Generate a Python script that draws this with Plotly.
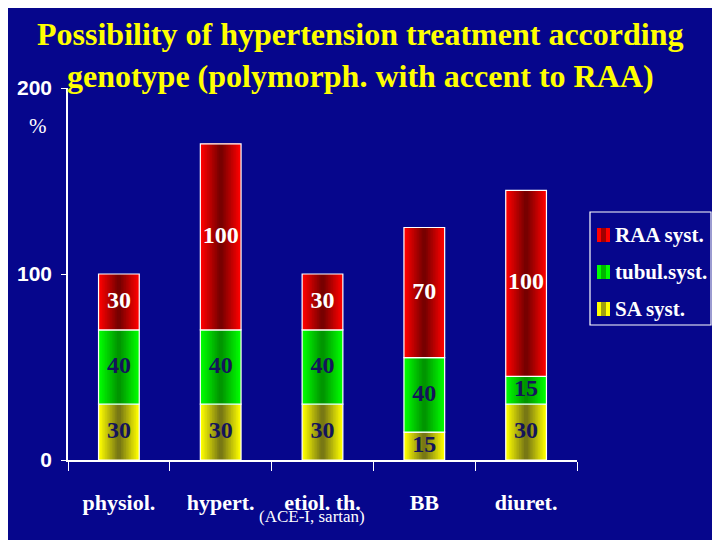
import plotly.graph_objects as go

# Data
categories = ["physiol.", "hypert.", "etiol. th.", "BB", "diuret."]
sa_syst = [30, 30, 30, 15, 30]
tubul_syst = [40, 40, 40, 40, 15]
raa_syst = [30, 100, 30, 70, 100]
y_ticks = [0, 100, 200]

bg = "#06068c"
serif = "Liberation Serif, Times New Roman, serif"

# name, values, edge colour, centre colour, label colour
series = [
    ("SA syst.", sa_syst, (255, 255, 0), (120, 120, 20), "#14145a"),
    ("tubul.syst.", tubul_syst, (0, 255, 0), (0, 150, 0), "#14145a"),
    ("RAA syst.", raa_syst, (255, 0, 0), (120, 0, 0), "white"),
]


def mix(c1, c2, t):
    return "rgb(%d,%d,%d)" % tuple(round(a + (b - a) * t) for a, b in zip(c1, c2))


fig = go.Figure()
bar_w = 0.4
n_layers = 12
base = [0] * len(categories)

for name, vals, c_edge, c_mid, txt_col in series:
    # fake a horizontal gradient with narrower, darker bars on top
    for k in range(n_layers):
        t = k / (n_layers - 1)
        fig.add_bar(
            x=categories, y=vals, base=base,
            width=bar_w * (1 - 0.9 * t),
            marker=dict(color=mix(c_edge, c_mid, t), line=dict(width=0)),
            name=name, showlegend=False, hoverinfo="skip",
        )
    # white outline
    fig.add_bar(
        x=categories, y=vals, base=base, width=bar_w,
        marker=dict(color="rgba(0,0,0,0)", line=dict(color="white", width=1.2)),
        showlegend=False, hoverinfo="skip",
    )
    mids = [b + v / 2 for b, v in zip(base, vals)]
    fig.add_scatter(
        x=categories, y=mids, mode="text", text=[str(v) for v in vals],
        textfont=dict(family=serif, size=24, color=txt_col, weight="bold"),
        showlegend=False, hoverinfo="skip",
    )
    base = [b + v for b, v in zip(base, vals)]

# page has an 8px body margin, so the figure is 8px smaller each way
fig.update_layout(
    width=712, height=532,
    barmode="overlay",
    paper_bgcolor=bg, plot_bgcolor=bg,
    margin=dict(l=60, r=143, t=80, b=80, autoexpand=False),
    showlegend=False,
)

fig.update_xaxes(
    showline=True, linecolor="white", linewidth=1.5,
    ticks="outside", tickson="boundaries", tickcolor="white", ticklen=9,
    tickfont=dict(family=serif, size=22, color="white", weight="bold"),
    ticklabelstandoff=22,
    showgrid=False, zeroline=False,
)
fig.update_yaxes(
    range=[0, 200], tickvals=y_ticks,
    showline=True, linecolor="white", linewidth=1.5,
    ticks="outside", tickcolor="white", ticklen=5,
    tickfont=dict(family="Liberation Sans, Arial, sans-serif", size=21, color="white", weight="bold"),
    ticklabelstandoff=5,
    showgrid=False, zeroline=False,
)


# helpers: slide pixel -> paper coords (plot area is 68..577 x 88..460)
def px(sx):
    return (sx - 68) / 509


def py(sy):
    return (460 - sy) / 372


# legend drawn by hand so it fits the narrow right margin like the slide
fig.add_shape(type="rect", xref="paper", yref="paper",
              x0=px(590), x1=px(711), y0=py(325), y1=py(212),
              line=dict(color="white", width=1.2), fillcolor="rgba(0,0,0,0)")
for i, (name, vals, c_edge, c_mid, txt_col) in enumerate(reversed(series)):
    cy = 235 + 37 * i
    fig.add_shape(type="rect", xref="paper", yref="paper",
                  x0=px(597), x1=px(610), y0=py(cy + 7), y1=py(cy - 7),
                  line=dict(width=0), fillcolor=mix(c_edge, c_mid, 0))
    fig.add_shape(type="rect", xref="paper", yref="paper",
                  x0=px(601), x1=px(606), y0=py(cy + 7), y1=py(cy - 7),
                  line=dict(width=0), fillcolor=mix(c_edge, c_mid, 0.7))
    fig.add_annotation(text=name, x=px(613), y=py(cy), xref="paper", yref="paper",
                       xanchor="left", yanchor="middle", showarrow=False,
                       font=dict(family=serif, size=21, color="white", weight="bold"))

fig.add_annotation(
    text="Possibility of hypertension treatment according<br>genotype (polymorph. with accent to RAA)",
    x=px(360), y=1 + 74 / 372, xref="paper", yref="paper",
    xanchor="center", yanchor="top", showarrow=False,
    font=dict(family=serif, size=32, color="#ffff00", weight="bold"),
)
fig.add_annotation(
    text="%", x=px(27), y=py(112), xref="paper", yref="paper", showarrow=False,
    font=dict(family=serif, size=21, color="white"),
)
fig.add_annotation(
    text="(ACE-I, sartan)", x=px(312), y=py(528), xref="paper", yref="paper",
    showarrow=False, font=dict(family=serif, size=17, color="white"),
)

fig.write_html("out.html")
